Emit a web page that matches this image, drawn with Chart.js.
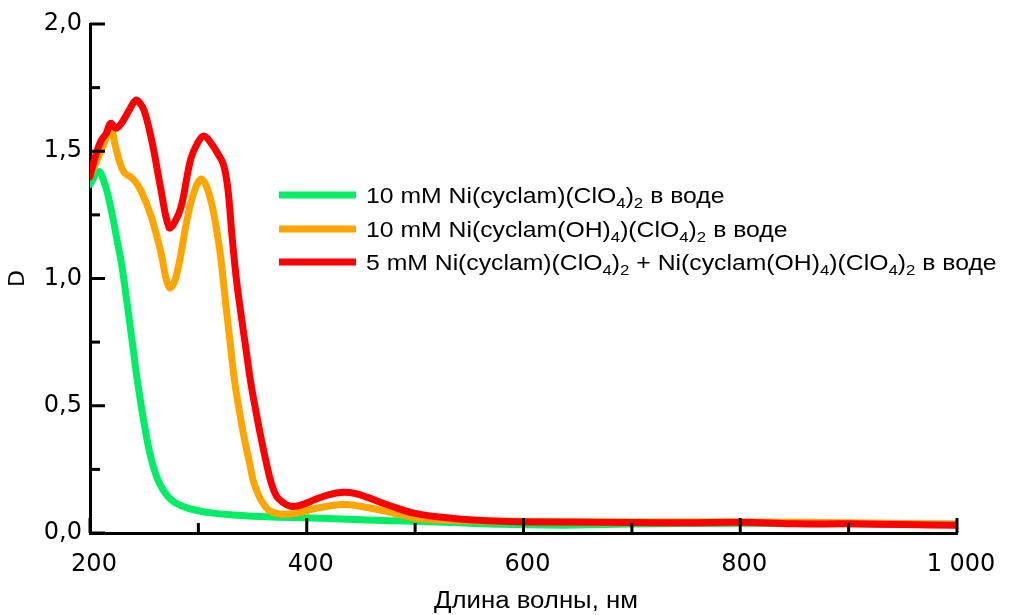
<!DOCTYPE html>
<html>
<head>
<meta charset="utf-8">
<script src="https://cdn.jsdelivr.net/npm/chart.js@4/dist/chart.umd.min.js"></script>
<style>
  html, body { margin: 0; padding: 0; background: #fff; }
  canvas { display: block; }
</style>
</head>
<body>
<canvas id="spectra" width="1014" height="615"></canvas>
<script>
// Absorption spectra, D vs wavelength (nm)
const wlCyclam = [200, 208, 213, 217, 221, 225, 229, 234, 239, 244, 250, 256, 264, 275, 290, 314, 346, 376, 420, 456, 500, 540, 580, 620, 650, 700, 750, 800, 850, 900, 950, 1000];
const dCyclam  = [1.37, 1.42, 1.38, 1.32, 1.24, 1.15, 1.06, 0.91, 0.75, 0.59, 0.43, 0.30, 0.196, 0.13, 0.098, 0.078, 0.067, 0.062, 0.057, 0.051, 0.046, 0.040, 0.034, 0.031, 0.031, 0.035, 0.037, 0.038, 0.037, 0.036, 0.035, 0.035];

const wlCyclamOH = [200, 207, 213, 219, 224, 231, 240, 247, 256, 265, 273, 279, 290, 296, 302, 306, 310, 314, 318, 321, 325, 329, 333, 337, 342, 347, 351, 356, 360, 365, 372, 380, 390, 410, 434, 456, 480, 502, 533, 580, 650, 700, 800, 900, 1000];
const dCyclamOH  = [1.40, 1.47, 1.53, 1.59, 1.51, 1.42, 1.39, 1.345, 1.25, 1.11, 0.965, 1.00, 1.24, 1.34, 1.39, 1.375, 1.33, 1.26, 1.16, 1.07, 0.91, 0.76, 0.61, 0.50, 0.38, 0.28, 0.20, 0.145, 0.115, 0.09, 0.077, 0.074, 0.077, 0.098, 0.112, 0.10, 0.078, 0.058, 0.05, 0.046, 0.044, 0.043, 0.043, 0.040, 0.034];

const wlMix = [200, 205, 210, 215, 219, 224, 229, 236, 242, 246, 250, 255, 259, 265, 273, 278, 284, 293, 299, 305, 312, 318, 323, 327, 331, 335, 339, 344, 348, 353, 358, 363, 367, 372, 378, 385, 395, 404, 420, 434, 445, 456, 475, 499, 533, 579, 625, 700, 750, 800, 850, 900, 950, 1000];
const dMix  = [1.40, 1.48, 1.54, 1.57, 1.61, 1.59, 1.61, 1.66, 1.70, 1.69, 1.66, 1.58, 1.50, 1.36, 1.20, 1.22, 1.28, 1.47, 1.53, 1.56, 1.53, 1.49, 1.45, 1.36, 1.17, 1.00, 0.87, 0.72, 0.60, 0.48, 0.37, 0.27, 0.20, 0.145, 0.12, 0.105, 0.11, 0.125, 0.15, 0.16, 0.155, 0.14, 0.11, 0.078, 0.058, 0.046, 0.043, 0.041, 0.040, 0.042, 0.036, 0.036, 0.033, 0.030];

const seriesColors = ['#00ee66', '#ffa500', '#ff0000'];

// Legend text split into [text, isSubscript] runs
const legendLabels = [
  [['10 mM Ni(cyclam)(ClO', 0], ['4', 1], [')', 0], ['2', 1], [' в воде', 0]],
  [['10 mM Ni(cyclam(OH)', 0], ['4', 1], [')(ClO', 0], ['4', 1], [')', 0], ['2', 1], [' в воде', 0]],
  [['5 mM Ni(cyclam)(ClO', 0], ['4', 1], [')', 0], ['2', 1], [' + Ni(cyclam(OH)', 0], ['4', 1], [')(ClO', 0], ['4', 1], [')', 0], ['2', 1], [' в воде', 0]]
];

const xTitle = 'Длина волны, нм';
const yTitle = 'D';

function points(xs, ys) { return xs.map((x, i) => ({ x: x, y: ys[i] })); }

// Ticks pointing into the plot area; long at labelled values, short between
const inwardTicks = {
  id: 'inwardTicks',
  afterDatasetsDraw(chart) {
    const { ctx, chartArea: a, scales } = chart;
    ctx.save();
    ctx.strokeStyle = '#000';
    ctx.lineWidth = 3;
    ctx.lineCap = 'butt';
    scales.x.ticks.forEach(t => {
      const px = scales.x.getPixelForValue(t.value);
      const len = (Math.round(t.value) % 200 === 0) ? 15 : 10;
      ctx.beginPath(); ctx.moveTo(px, a.bottom); ctx.lineTo(px, a.bottom - len); ctx.stroke();
    });
    scales.y.ticks.forEach(t => {
      const py = scales.y.getPixelForValue(t.value);
      const major = Math.abs(t.value * 2 - Math.round(t.value * 2)) < 1e-6;
      const len = major ? 15 : 10;
      ctx.beginPath(); ctx.moveTo(a.left, py); ctx.lineTo(a.left + len, py); ctx.stroke();
    });
    ctx.restore();
  }
};

// Legend inside the plot with chemical subscripts, plus the x-axis caption
const formulaLegend = {
  id: 'formulaLegend',
  afterDraw(chart) {
    const { ctx, chartArea: a } = chart;
    const x0 = a.left + 189, lineLen = 77, gap = 10;
    const rows = [a.top + 171, a.top + 205, a.top + 238];
    const stretch = 1.125;
    ctx.save();
    legendLabels.forEach((runs, i) => {
      const y = rows[i];
      ctx.strokeStyle = seriesColors[i];
      ctx.lineWidth = 7;
      ctx.lineCap = 'butt';
      ctx.beginPath(); ctx.moveTo(x0, y); ctx.lineTo(x0 + lineLen, y); ctx.stroke();
      ctx.save();
      ctx.translate(x0 + lineLen + gap, y + 8);
      ctx.scale(stretch, 1);
      ctx.fillStyle = '#000';
      ctx.textBaseline = 'alphabetic';
      let cx = 0;
      runs.forEach(([txt, sub]) => {
        ctx.font = sub ? '15px "Liberation Sans"' : '22px "Liberation Sans"';
        ctx.fillText(txt, cx, sub ? 5 : 0);
        cx += ctx.measureText(txt).width;
      });
      ctx.restore();
    });

    // x-axis caption
    ctx.save();
    ctx.translate(536, 608);
    ctx.scale(1.12, 1);
    ctx.font = '23px "Liberation Sans"';
    ctx.fillStyle = '#000';
    ctx.textAlign = 'center';
    ctx.textBaseline = 'alphabetic';
    ctx.fillText(xTitle, 0, 0);
    ctx.restore();
    ctx.restore();
  }
};

new Chart(document.getElementById('spectra'), {
  type: 'line',
  data: {
    datasets: [
      { label: 'cyclam', data: points(wlCyclam, dCyclam), borderColor: seriesColors[0], order: 3 },
      { label: 'cyclam(OH)4', data: points(wlCyclamOH, dCyclamOH), borderColor: seriesColors[1], order: 2 },
      { label: 'mix', data: points(wlMix, dMix), borderColor: seriesColors[2], order: 1 }
    ]
  },
  options: {
    responsive: false,
    animation: false,
    events: [],
    datasets: { line: { borderWidth: 7, pointRadius: 0, fill: false, tension: 0.4, borderJoinStyle: 'round', borderCapStyle: 'round' } },
    layout: { padding: { left: 0, right: 57, top: 24, bottom: 0 } },
    plugins: { legend: { display: false }, tooltip: { enabled: false } },
    scales: {
      x: {
        type: 'linear',
        min: 200, max: 1000,
        afterFit(scale) { scale.height = 82; },
        grid: { display: false, drawTicks: false },
        border: { display: true, color: '#000', width: 3 },
        ticks: {
          stepSize: 100, autoSkip: false, maxRotation: 0, padding: 17, labelOffset: 4,
          color: '#000',
          font: { family: '"DejaVu Sans"', size: 24 },
          callback: v => (Math.round(v) % 200 === 0) ? (v === 1000 ? '1 000' : String(v)) : ''
        },
        title: { display: false }
      },
      y: {
        type: 'linear',
        min: 0, max: 2,
        afterFit(scale) { scale.width = 90; },
        grid: { display: false, drawTicks: false },
        border: { display: true, color: '#000', width: 3 },
        ticks: {
          stepSize: 0.25, autoSkip: false, padding: 8,
          color: '#000',
          font: { family: '"DejaVu Sans"', size: 24 },
          callback: v => (Math.abs(v * 2 - Math.round(v * 2)) < 1e-6) ? v.toFixed(1).replace('.', ',') : ''
        },
        title: { display: true, text: yTitle, color: '#000', font: { family: '"DejaVu Sans"', size: 22 }, padding: { top: 5, bottom: 0 } }
      }
    }
  },
  plugins: [inwardTicks, formulaLegend]
});
</script>
</body>
</html>
